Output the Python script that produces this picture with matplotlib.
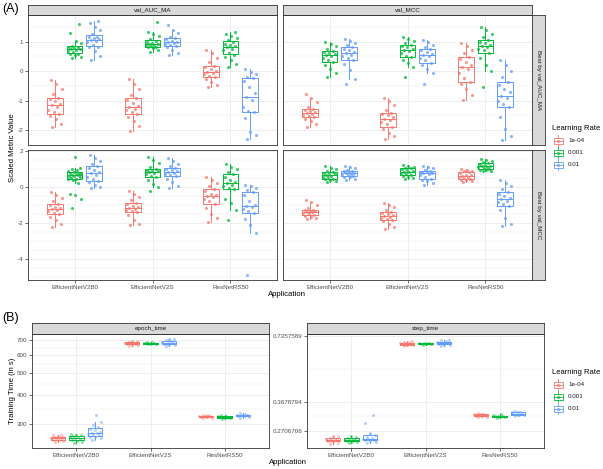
import numpy as np
import matplotlib.pyplot as plt
from matplotlib.patches import Rectangle
from matplotlib.lines import Line2D
from matplotlib.ticker import FixedLocator, NullLocator

plt.rcParams['font.family'] = ['Liberation Sans', 'DejaVu Sans']
plt.rcParams['axes.unicode_minus'] = False

apps = ['EfficientNetV2B0', 'EfficientNetV2S', 'ResNetRS50']
rates = ['1e-04', '0.001', '0.01']
rate_colors = ['#F8766D', '#00BA38', '#619CFF']
metrics = ['val_AUC_MA', 'val_MCC']
selections = ['Best by val_AUC_MA', 'Best by val_MCC']
timings = ['epoch_time', 'step_time']

# scaled metric values, one list per (application, learning rate)
auc_best_auc = [
    [-1.88, -1.80, -1.62, -1.52, -1.45, -1.40, -1.30, -1.22, -1.16, -1.10, -1.02, -0.95, -0.90, -0.78, -0.62, -0.45, -0.30],
    [0.43, 0.48, 0.53, 0.57, 0.59, 0.64, 0.69, 0.72, 0.74, 0.76, 0.78, 0.80, 0.82, 0.84, 0.95, 1.02, 1.28, 1.60],
    [0.38, 0.52, 0.68, 0.80, 0.83, 0.90, 0.97, 1.03, 1.06, 1.08, 1.11, 1.14, 1.16, 1.25, 1.38, 1.50, 1.62, 1.71],
    [-2.02, -1.85, -1.70, -1.55, -1.44, -1.38, -1.32, -1.27, -1.23, -1.18, -1.08, -0.98, -0.92, -0.80, -0.62, -0.45, -0.25],
    [0.66, 0.72, 0.77, 0.80, 0.82, 0.85, 0.88, 0.90, 0.91, 0.93, 0.96, 1.00, 1.03, 1.08, 1.18, 1.27, 1.34, 1.67],
    [0.55, 0.62, 0.72, 0.80, 0.84, 0.88, 0.92, 0.95, 0.97, 0.99, 1.03, 1.08, 1.11, 1.17, 1.28, 1.38, 1.56],
    [-0.55, -0.48, -0.38, -0.28, -0.21, -0.15, -0.10, -0.06, -0.03, 0.02, 0.08, 0.14, 0.19, 0.30, 0.45, 0.60, 0.72],
    [0.15, 0.25, 0.38, 0.48, 0.55, 0.62, 0.70, 0.76, 0.80, 0.84, 0.88, 0.93, 0.98, 1.05, 1.12, 1.20, 1.27, 1.34],
    [-2.31, -2.15, -2.05, -1.60, -1.40, -1.36, -1.20, -0.98, -0.86, -0.75, -0.55, -0.35, -0.24, -0.20, -0.10, -0.02, 0.06],
]
mcc_best_auc = [
    [-1.90, -1.80, -1.70, -1.62, -1.56, -1.52, -1.48, -1.45, -1.43, -1.40, -1.36, -1.32, -1.29, -1.20, -1.05, -0.92, -0.79],
    [-0.21, -0.08, 0.08, 0.22, 0.30, 0.38, 0.45, 0.52, 0.55, 0.58, 0.62, 0.66, 0.69, 0.76, 0.84, 0.92, 1.00],
    [-0.44, -0.25, 0.05, 0.25, 0.36, 0.44, 0.50, 0.56, 0.60, 0.65, 0.70, 0.76, 0.81, 0.88, 0.95, 1.02, 1.08],
    [-2.31, -2.20, -2.08, -1.96, -1.90, -1.80, -1.72, -1.66, -1.61, -1.56, -1.50, -1.45, -1.41, -1.30, -1.15, -1.02, -0.92],
    [-0.21, 0.15, 0.26, 0.38, 0.48, 0.52, 0.60, 0.67, 0.72, 0.75, 0.80, 0.85, 0.88, 0.95, 1.03, 1.10, 1.17],
    [-0.44, -0.05, 0.08, 0.20, 0.29, 0.36, 0.44, 0.50, 0.55, 0.59, 0.64, 0.70, 0.74, 0.82, 0.90, 0.98, 1.06],
    [-0.98, -0.80, -0.62, -0.45, -0.36, -0.22, -0.05, 0.08, 0.15, 0.22, 0.30, 0.40, 0.49, 0.60, 0.72, 0.85, 0.94],
    [-0.55, 0.00, 0.20, 0.45, 0.63, 0.70, 0.76, 0.82, 0.85, 0.88, 0.94, 1.00, 1.06, 1.15, 1.25, 1.38, 1.51],
    [-2.33, -2.20, -1.95, -1.55, -1.22, -1.10, -1.00, -0.90, -0.83, -0.72, -0.60, -0.48, -0.38, -0.20, 0.00, 0.20, 0.36],
]
auc_best_mcc = [
    [-2.22, -2.05, -1.85, -1.68, -1.52, -1.45, -1.36, -1.30, -1.24, -1.18, -1.10, -1.00, -0.93, -0.80, -0.62, -0.45, -0.28],
    [-1.20, -0.69, -0.46, -0.37, 0.19, 0.40, 0.43, 0.46, 0.50, 0.55, 0.59, 0.62, 0.65, 0.67, 0.70, 0.73, 0.76, 0.79, 0.81, 0.86, 0.92, 0.98, 1.02, 1.63],
    [-0.09, 0.00, 0.12, 0.25, 0.33, 0.45, 0.56, 0.66, 0.74, 0.82, 0.92, 1.05, 1.15, 1.28, 1.42, 1.60, 1.76],
    [-2.14, -2.05, -1.82, -1.58, -1.40, -1.34, -1.28, -1.23, -1.20, -1.14, -1.06, -0.96, -0.89, -0.75, -0.58, -0.40, -0.22],
    [-0.24, 0.00, 0.18, 0.38, 0.52, 0.62, 0.72, 0.79, 0.83, 0.86, 0.90, 0.94, 0.98, 1.10, 1.30, 1.50, 1.66],
    [-0.09, 0.05, 0.25, 0.45, 0.59, 0.66, 0.72, 0.77, 0.81, 0.86, 0.92, 0.99, 1.06, 1.16, 1.28, 1.42, 1.57],
    [-1.94, -1.75, -1.50, -1.15, -0.93, -0.80, -0.68, -0.58, -0.52, -0.45, -0.38, -0.25, -0.13, 0.05, 0.22, 0.38, 0.52],
    [-1.81, -1.26, -0.89, -0.65, -0.13, -0.05, 0.05, 0.12, 0.19, 0.28, 0.40, 0.55, 0.69, 0.82, 0.98, 1.12, 1.26],
    [-4.90, -2.56, -2.10, -1.80, -1.44, -1.35, -1.22, -1.12, -1.07, -0.98, -0.80, -0.45, -0.28, -0.18, -0.08, 0.02, 0.09],
]
mcc_best_mcc = [
    [-1.80, -1.72, -1.65, -1.60, -1.57, -1.50, -1.45, -1.42, -1.39, -1.36, -1.32, -1.29, -1.26, -1.15, -1.00, -0.86, -0.74],
    [0.28, 0.34, 0.40, 0.44, 0.46, 0.52, 0.57, 0.62, 0.65, 0.69, 0.74, 0.79, 0.83, 0.90, 0.98, 1.06, 1.15],
    [0.37, 0.45, 0.52, 0.57, 0.59, 0.64, 0.68, 0.72, 0.74, 0.77, 0.81, 0.85, 0.89, 0.95, 1.02, 1.09, 1.15],
    [-2.31, -2.20, -2.05, -1.92, -1.85, -1.78, -1.72, -1.67, -1.63, -1.58, -1.52, -1.45, -1.39, -1.28, -1.14, -1.00, -0.89],
    [0.41, 0.50, 0.57, 0.62, 0.65, 0.70, 0.75, 0.80, 0.83, 0.87, 0.92, 0.97, 1.02, 1.07, 1.12, 1.16, 1.20],
    [0.09, 0.20, 0.30, 0.40, 0.46, 0.55, 0.63, 0.70, 0.74, 0.77, 0.80, 0.84, 0.87, 0.94, 1.02, 1.09, 1.15],
    [0.24, 0.30, 0.36, 0.40, 0.43, 0.48, 0.53, 0.57, 0.59, 0.63, 0.68, 0.74, 0.80, 0.85, 0.89, 0.93, 0.96],
    [0.87, 0.90, 0.93, 0.95, 0.96, 1.02, 1.08, 1.12, 1.15, 1.18, 1.22, 1.26, 1.30, 1.36, 1.42, 1.47, 1.52],
    [-2.15, -2.05, -1.70, -1.30, -1.04, -0.95, -0.85, -0.76, -0.69, -0.60, -0.50, -0.40, -0.28, -0.12, 0.05, 0.22, 0.37],
]

# training time in seconds
epoch_time = [
    [248, 251, 254, 255, 256, 258, 259, 260, 261, 263, 264, 266, 268],
    [247, 249, 252, 254, 257, 259, 261, 262, 264, 266, 268, 270],
    [255, 258, 261, 263, 266, 268, 270, 272, 274, 276, 280, 285, 290, 297, 305, 326],
    [660, 664, 668, 671, 674, 677, 679, 682, 686, 690, 695],
    [670, 673, 675, 677, 678, 679, 681, 683, 686],
    [660, 664, 668, 672, 676, 680, 685, 690, 698, 705, 710],
    [316, 318, 320, 321, 323, 324, 325, 327, 329],
    [314, 316, 318, 320, 321, 322, 323, 325, 327],
    [319, 321, 323, 325, 326, 327, 329, 331, 333],
]
step_time = [
    [0.236, 0.239, 0.242, 0.244, 0.246, 0.247, 0.248, 0.250, 0.252, 0.254, 0.256],
    [0.238, 0.240, 0.242, 0.244, 0.246, 0.247, 0.248, 0.250, 0.252, 0.254, 0.257],
    [0.239, 0.242, 0.244, 0.246, 0.247, 0.248, 0.250, 0.252, 0.254, 0.259, 0.265, 0.294, 0.319],
    [0.662, 0.667, 0.671, 0.675, 0.678, 0.681, 0.684, 0.688, 0.693, 0.700],
    [0.672, 0.675, 0.677, 0.679, 0.681, 0.682, 0.684, 0.687],
    [0.664, 0.668, 0.672, 0.676, 0.680, 0.684, 0.689, 0.695, 0.702, 0.708],
    [0.313, 0.315, 0.317, 0.318, 0.319, 0.320, 0.322, 0.324, 0.326],
    [0.311, 0.313, 0.315, 0.316, 0.317, 0.318, 0.320, 0.322],
    [0.316, 0.319, 0.321, 0.323, 0.325, 0.327, 0.329, 0.331, 0.334],
]

W, H = 603, 469
fig = plt.figure(figsize=(W / 100, H / 100), dpi=100, facecolor='white')

BORDER = '#333333'
GRID = '#EBEBEB'


def rect(x0, x1, y0, y1):
    return [x0 / W, 1 - y1 / H, (x1 - x0) / W, (y1 - y0) / H]


def draw_groups(ax, groups, alpha):
    for i, vals in enumerate(groups):
        a, r = divmod(i, 3)
        xc = a + 1 + (r - 1) * 0.25
        col = rate_colors[r]
        bp = ax.boxplot([vals], positions=[xc], widths=0.2, showfliers=False,
                        showcaps=False, manage_ticks=False)
        for key in ['boxes', 'medians', 'whiskers']:
            for ln in bp[key]:
                ln.set_color(col)
                ln.set_linewidth(0.7)
                ln.set_zorder(2)
        jit = ((np.arange(len(vals)) * 0.618034 + 0.3) % 1 - 0.5) * 0.18
        ax.scatter(xc + jit, vals, s=5, color=col, alpha=alpha, linewidths=0, zorder=3)


def style_panel(ax, xlabels, ylabels):
    ax.set_xlim(0.4, 3.6)
    for sp in ax.spines.values():
        sp.set_color(BORDER)
        sp.set_linewidth(0.6)
    for x in [1, 2, 3]:
        ax.axvline(x, color=GRID, lw=0.6, zorder=0)
    ax.set_xticks([1, 2, 3])
    ax.set_xticklabels(apps if xlabels else [])
    ax.tick_params(axis='both', length=2, width=0.5, color=BORDER, labelsize=4.5,
                   labelcolor='#4D4D4D', pad=1.5)
    if not xlabels:
        ax.tick_params(axis='x', length=0)
    if not ylabels:
        ax.tick_params(axis='y', length=0, labelleft=False)


def strip(r, text, rot=0):
    s = fig.add_axes(r)
    s.set_facecolor('#D9D9D9')
    s.set_xticks([])
    s.set_yticks([])
    for sp in s.spines.values():
        sp.set_color(BORDER)
        sp.set_linewidth(0.6)
    s.text(0.5, 0.5, text, rotation=rot, ha='center', va='center', fontsize=4.5,
           color='#1A1A1A', transform=s.transAxes)


# ---- (A) scaled metrics ----
cols_x = [(28, 277), (283, 532)]
rows_y = [(15, 145), (150, 280)]
row_lims = [(-2.50, 1.90), (-5.16, 2.04)]
row_ticks = [[-2, -1, 0, 1], [-4, -2, 0, 2]]
panel_data = [[auc_best_auc, mcc_best_auc], [auc_best_mcc, mcc_best_mcc]]

for ri in range(2):
    for ci in range(2):
        ax = fig.add_axes(rect(cols_x[ci][0], cols_x[ci][1], rows_y[ri][0], rows_y[ri][1]))
        lo, hi = row_lims[ri]
        ax.set_ylim(lo, hi)
        for v in np.arange(np.floor(lo), np.ceil(hi) + 1, 0.5):
            if lo < v < hi:
                major = v in row_ticks[ri]
                ax.axhline(v, color=GRID, lw=0.6 if major else 0.3, zorder=0)
        ax.set_yticks(row_ticks[ri])
        ax.set_yticklabels([str(t) for t in row_ticks[ri]])
        style_panel(ax, xlabels=(ri == 1), ylabels=(ci == 0))
        draw_groups(ax, panel_data[ri][ci], alpha=0.75)

for ci in range(2):
    strip(rect(cols_x[ci][0], cols_x[ci][1], 5, 15), metrics[ci])
for ri in range(2):
    strip(rect(532, 545, rows_y[ri][0], rows_y[ri][1]), selections[ri], rot=-90)

# ---- (B) training time ----
b_cols = [(32, 269), (307, 544)]
b_lims = [(234.3, 744), (0.2262, 0.7515)]
b_ticks = [[300, 400, 500, 600, 700], [0.2706706, 0.3678794, 0.7357589]]
b_labels = [['300', '400', '500', '600', '700'], ['0.2706706', '0.3678794', '0.7357589']]
b_data = [epoch_time, step_time]

for ci in range(2):
    ax = fig.add_axes(rect(b_cols[ci][0], b_cols[ci][1], 334, 448))
    ax.set_yscale('log')
    ax.set_ylim(*b_lims[ci])
    t = b_ticks[ci]
    for v in t:
        ax.axhline(v, color=GRID, lw=0.6, zorder=0)
    for a, b in zip(t[:-1], t[1:]):
        ax.axhline(np.sqrt(a * b), color=GRID, lw=0.3, zorder=0)
    ax.yaxis.set_major_locator(FixedLocator(t))
    ax.yaxis.set_minor_locator(NullLocator())
    ax.set_yticklabels(b_labels[ci])
    style_panel(ax, xlabels=True, ylabels=True)
    draw_groups(ax, b_data[ci], alpha=0.45)
    strip(rect(b_cols[ci][0], b_cols[ci][1], 323, 334), timings[ci])

# ---- labels and legends ----
ov = fig.add_axes([0, 0, 1, 1])
ov.set_xlim(0, W)
ov.set_ylim(H, 0)
ov.axis('off')

ov.text(2, 9, '(A)', fontsize=9, ha='left', va='center')
ov.text(2, 318, '(B)', fontsize=9, ha='left', va='center')
ov.text(13, 147.5, 'Scaled Metric Value', rotation=90, fontsize=5.6, ha='center', va='center')
ov.text(13, 391, 'Training Time (in s)', rotation=90, fontsize=5.6, ha='center', va='center')
ov.text(287, 295, 'Application', fontsize=5.6, ha='center', va='center')
ov.text(288, 463, 'Application', fontsize=5.6, ha='center', va='center')


def legend(title_y, key_ys):
    ov.text(552, title_y, 'Learning Rate', fontsize=5.5, ha='left', va='center')
    for y, lab, col in zip(key_ys, rates, rate_colors):
        ov.add_patch(Rectangle((553.5, y - 3), 9, 6, fill=False, edgecolor=col, lw=0.6))
        ov.add_line(Line2D([553.5, 562.5], [y, y], color=col, lw=0.6))
        ov.add_line(Line2D([558, 558], [y - 5.5, y - 3], color=col, lw=0.6))
        ov.add_line(Line2D([558, 558], [y + 3, y + 5.5], color=col, lw=0.6))
        ov.scatter([558], [y], s=5, color=col, alpha=0.75, linewidths=0)
        ov.text(568, y, lab, fontsize=4.5, ha='left', va='center', color='#1A1A1A')


legend(128, [141, 153, 165])
legend(372, [385, 397, 409])

fig.savefig('out.png', dpi=100)
